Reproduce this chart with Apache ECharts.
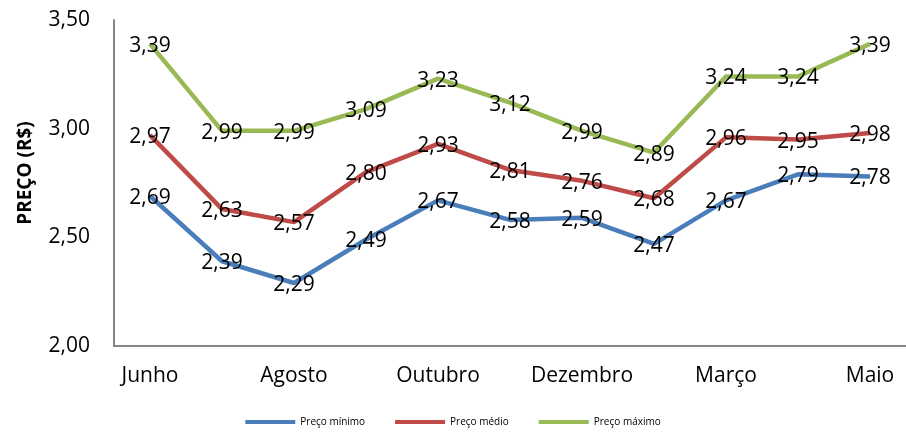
<!DOCTYPE html>
<html>
<head>
<meta charset="utf-8">
<script src="https://cdn.jsdelivr.net/npm/echarts@6/dist/echarts.min.js"></script>
<style>
  html, body { margin: 0; padding: 0; background: #fff; }
  #chart { width: 906px; height: 438px; }
</style>
</head>
<body>
<div id="chart"></div>
<script>
// Categories (only every other label shown on the axis)
const months = ["Junho", "Julho", "Agosto", "Setembro", "Outubro", "Novembro",
  "Dezembro", "Fevereiro", "Março", "Abril", "Maio"];

const precoMinimo = [2.69, 2.39, 2.29, 2.49, 2.67, 2.58, 2.59, 2.47, 2.67, 2.79, 2.78];
const precoMedio = [2.97, 2.63, 2.57, 2.80, 2.93, 2.81, 2.76, 2.68, 2.96, 2.95, 2.98];
const precoMaximo = [3.39, 2.99, 2.99, 3.09, 3.23, 3.12, 2.99, 2.89, 3.24, 3.24, 3.39];

const seriesNames = ["Preço mínimo", "Preço médio", "Preço máximo"];
const colors = ["#4a7ebb", "#be4b48", "#98b954"];

const fontFamily = "'Open Sans', 'Noto Sans', sans-serif";
const fmt = (v) => v.toFixed(2).replace(".", ",");

const chart = echarts.init(document.getElementById("chart"));

const makeSeries = (name, data, color) => ({
  name: name,
  type: "line",
  data: data,
  symbol: "circle",
  symbolSize: 1,
  showSymbol: true,
  smooth: false,
  lineStyle: { width: 4.5, color: color },
  itemStyle: { color: color },
  label: {
    show: true,
    position: "inside",
    offset: [0, 2],
    color: "#000",
    fontSize: 21,
    fontFamily: fontFamily,
    formatter: (p) => fmt(p.value),
  },
  z: 2,
});

const option = {
  animation: false,
  color: colors,
  grid: {
    left: 114,
    right: -2,
    top: 20,
    bottom: 92,
    containLabel: false,
  },
  legend: {
    data: seriesNames,
    bottom: 6,
    left: "center",
    itemWidth: 50,
    itemHeight: 4,
    itemGap: 30,
    icon: "rect",
    textStyle: { fontSize: 10, color: "#000", fontFamily: fontFamily },
  },
  xAxis: {
    type: "category",
    data: months,
    boundaryGap: true,
    axisLine: { lineStyle: { color: "#868686", width: 2 } },
    axisTick: { show: false },
    axisLabel: {
      interval: 1,
      color: "#000",
      fontSize: 21,
      fontFamily: fontFamily,
      margin: 20,
    },
    splitLine: { show: false },
  },
  yAxis: {
    type: "value",
    min: 2,
    max: 3.5,
    interval: 0.5,
    name: "PREÇO (R$)",
    nameLocation: "middle",
    nameGap: 79,
    nameTextStyle: {
      fontSize: 19,
      fontWeight: "bold",
      color: "#000",
      fontFamily: fontFamily,
      padding: [0, 0, 0, 20],
    },
    axisLine: { show: true, lineStyle: { color: "#868686", width: 2 } },
    axisTick: { show: false },
    axisLabel: {
      color: "#000",
      fontSize: 21,
      fontFamily: fontFamily,
      margin: 24,
      formatter: (v) => fmt(v),
    },
    splitLine: { show: false },
  },
  series: [
    makeSeries(seriesNames[0], precoMinimo, colors[0]),
    makeSeries(seriesNames[1], precoMedio, colors[1]),
    makeSeries(seriesNames[2], precoMaximo, colors[2]),
  ],
};

chart.setOption(option);
</script>
</body>
</html>
